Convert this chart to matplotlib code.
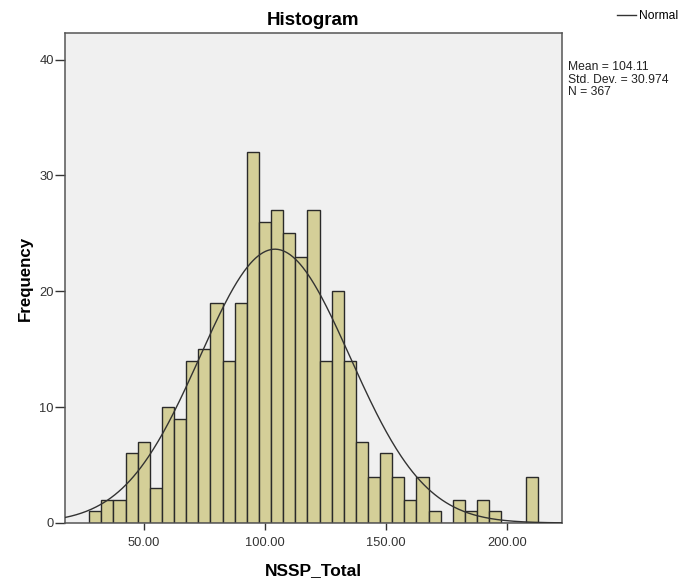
import matplotlib
matplotlib.use("Agg")
import matplotlib.pyplot as plt
import numpy as np
from matplotlib.lines import Line2D

# NSSP_Total frequencies, 5-point bins starting at 27.5
bin_start = 27.5
bin_width = 5.0
counts = [1, 2, 2, 6, 7, 3, 10, 9, 14, 15, 19, 14, 19, 32, 26, 27, 25, 23, 27,
          14, 20, 14, 7, 4, 6, 4, 2, 4, 1, 0, 2, 1, 2, 1, 0, 0, 4]

mean = 104.11
std_dev = 30.974
n_obs = 367

xticks = [50, 100, 150, 200]
yticks = [0, 10, 20, 30, 40]

plt.rcParams["font.family"] = ["Liberation Sans", "DejaVu Sans"]

fig = plt.figure(figsize=(6.81, 5.82), dpi=100)
fig.patch.set_facecolor("white")
ax = fig.add_axes([0.0954, 0.1014, 0.7298, 0.842])
ax.set_facecolor("#f0f0f0")

lefts = bin_start + bin_width * np.arange(len(counts))
ax.bar(lefts, counts, width=bin_width, align="edge", color="#d4cf98",
       edgecolor="#2a2a2a", linewidth=1.0, zorder=2)

# fitted normal curve scaled to counts
xs = np.linspace(17.5, 222.5, 400)
pdf = np.exp(-0.5 * ((xs - mean) / std_dev) ** 2) / (std_dev * np.sqrt(2 * np.pi))
ax.plot(xs, pdf * n_obs * bin_width, color="#333333", linewidth=1.0, zorder=3)

ax.set_xlim(17.5, 222.5)
ax.set_ylim(0, 42.3)
ax.set_xticks(xticks)
ax.set_xticklabels([f"{v:.2f}" for v in xticks], fontsize=9.3, color="#333333")
ax.set_yticks(yticks)
ax.set_yticklabels([str(v) for v in yticks], fontsize=9.3, color="#333333")
ax.tick_params(axis="x", length=5, width=1.0, color="#333333", pad=5)
ax.tick_params(axis="y", length=7, width=1.0, color="#333333", pad=1)

for side in ["left", "bottom", "top", "right"]:
    ax.spines[side].set_color("#555555")
    ax.spines[side].set_linewidth(1.1)

ax.set_title("Histogram", fontsize=13.5, fontweight="bold", pad=6)
ax.set_xlabel("NSSP_Total", fontsize=12.5, fontweight="bold", labelpad=10)
ax.set_ylabel("Frequency", fontsize=12.2, fontweight="bold", labelpad=5)

# legend entry for the curve, top right
fig.legend(handles=[Line2D([0], [0], color="#333333", linewidth=1.0, label="Normal")],
           loc="center left", bbox_to_anchor=(0.899, 0.972), frameon=False,
           fontsize=8.7, handlelength=1.6, handletextpad=0.2, borderaxespad=0)

fig.text(568 / 681, 1 - 61 / 582,
         f"Mean = {mean:.2f}\nStd. Dev. = {std_dev:.3f}\nN = {n_obs}",
         fontsize=8.7, va="top", ha="left", linespacing=1.08, color="#222222")

fig.savefig("out.png", dpi=100, facecolor="white")
plt.close()
